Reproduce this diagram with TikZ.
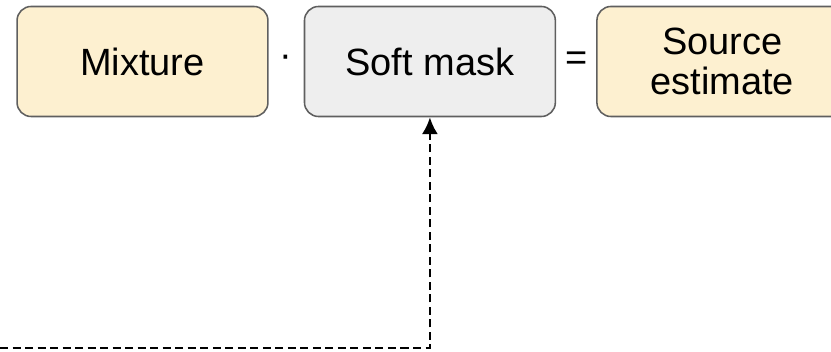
\documentclass[tikz,border=0pt]{standalone}
\usepackage{fontspec}
\setmainfont{Liberation Sans}
\usetikzlibrary{arrows.meta,positioning,calc}
\definecolor{MaskCream}{HTML}{FDF0D0}
\definecolor{MaskGrey}{HTML}{EEEEEE}
\definecolor{MaskEdge}{HTML}{5F5F5F}
\tikzset{
  sigbox/.style={
    draw=MaskEdge,
    line width=1.1pt,
    fill=MaskCream,
    rounded corners=10pt,
    align=center,
    minimum width=6.27cm,
    minimum height=2.75cm,
    font=\fontsize{27}{28.5}\selectfont
  },
  maskbox/.style={sigbox,fill=MaskGrey},
  opsign/.style={font=\fontsize{27}{30}\selectfont,inner sep=0pt},
  feedflow/.style={-{Latex[length=12pt,width=11.5pt]},draw=black,line width=1.9pt,
    dash pattern=on 5.7pt off 3.2pt}
}

\begin{document}
\begin{tikzpicture}[x=0.025cm,y=-0.025cm,node distance=0.875cm and 0.875cm]
  \useasboundingbox (0,0) rectangle (831,352);
  \clip (0,0) rectangle (831,352);
  \node[sigbox] (mix) at (142.5,61.5) {Mixture};
  \node[maskbox,right=of mix] (mask) {Soft mask};
  \node[sigbox,right=1cm of mask] (src) {Source\\estimate};
  \node[opsign] (dot) at ($(mix.east)!0.5!(mask.west)$) {·};
  \node[opsign] (eq) at ($(mask.east)!0.5!(src.west)$) {=};
  % feedback from the bottom edge
  \coordinate (feed) at (0,348);
  \draw[feedflow] (feed) -| (mask.south);
\end{tikzpicture}
\end{document}
